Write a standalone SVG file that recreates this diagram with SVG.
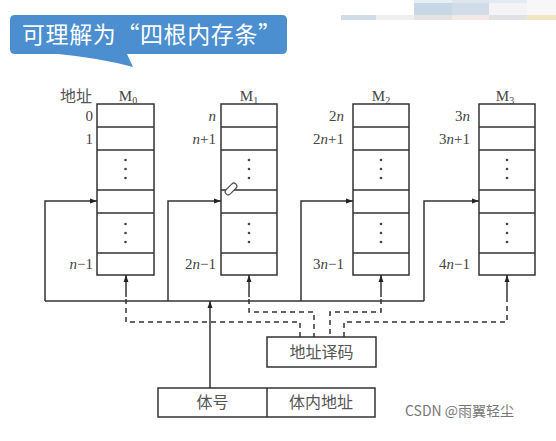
<svg xmlns="http://www.w3.org/2000/svg" width="556" height="441" viewBox="0 0 556 441">
<style>
.bx{fill:#fff;stroke:#333;stroke-width:1.5}
.rw{stroke:#333;stroke-width:1.5}
.ln{fill:none;stroke:#333;stroke-width:1.5}
.ds{fill:none;stroke:#333;stroke-width:1.5;stroke-dasharray:5 4}
.t{font-family:"Liberation Serif",serif;font-size:15px;fill:#444}
.r{text-anchor:end}
.c{text-anchor:middle}
.zh{font-family:"Noto Sans CJK SC",sans-serif;font-size:16px;fill:#555}
.dot{fill:#444}
</style>
<defs>
<marker id="ah" viewBox="0 0 10 10" refX="10" refY="5" markerWidth="7" markerHeight="7" orient="auto" markerUnits="userSpaceOnUse">
<path d="M0,1.5 L10,5 L0,8.5 Z" fill="#222"/>
</marker>
<g id="dots"><circle cx="0" cy="0" r="1.3" class="dot"/><circle cx="0" cy="9" r="1.3" class="dot"/><circle cx="0" cy="18" r="1.3" class="dot"/></g>
</defs>
<rect width="556" height="441" fill="#fff"/>
<g id="mosaic">
<rect x="414" y="0" width="38" height="3" fill="#e8eef5"/>
<rect x="452" y="0" width="37" height="3" fill="#dde6ef"/>
<rect x="489" y="0" width="38" height="3" fill="#e3eaf2"/>
<rect x="414" y="3" width="38" height="12" fill="#c8d7e6"/>
<rect x="452" y="3" width="37" height="12" fill="#d0dde8"/>
<rect x="489" y="3" width="38" height="12" fill="#f4f3f5"/>
<rect x="527" y="0" width="29" height="15" fill="#f7f7f9"/>
<rect x="341" y="15" width="35" height="5" fill="#d0dce8"/>
<rect x="376" y="15" width="38" height="5" fill="#efefef"/>
<rect x="414" y="15" width="38" height="5" fill="#e6e1e2"/>
<rect x="452" y="15" width="37" height="5" fill="#f3e8e5"/>
<rect x="489" y="15" width="38" height="5" fill="#e1e0e3"/>
<rect x="527" y="15" width="29" height="5" fill="#f1e6c0"/>
</g>
<g id="bubble">
<path d="M15,15 H282 Q287,15 287,20 V49 Q287,54 282,54 H127 L133,67 Q100,58 58,54 H15 Q10,54 10,49 V20 Q10,15 15,15 Z" fill="#4b8fd0"/>
<text x="22" y="43" font-family="Noto Sans CJK SC,sans-serif" font-size="23" letter-spacing="0.6" fill="#fff">可理解为“四根内存条”</text>
</g>
<text class="zh" x="60" y="102">地址</text>
<g id="M0">
<rect class="bx" x="97" y="104" width="57" height="171"/>
<path class="rw" d="M97,127H154M97,150H154M97,190H154M97,213H154M97,253H154"/>
<use href="#dots" x="125.5" y="160"/><use href="#dots" x="125.5" y="224"/>
<text class="t c" x="128" y="101">M<tspan font-size="10" dy="3">0</tspan></text>
<text class="t r" x="93" y="121">0</text>
<text class="t r" x="93" y="144">1</text>
<text class="t r" x="93" y="269"><tspan font-style="italic">n</tspan>−1</text>
</g>
<g id="M1">
<rect class="bx" x="221" y="104" width="56" height="171"/>
<path class="rw" d="M221,127H277M221,150H277M221,190H277M221,213H277M221,253H277"/>
<use href="#dots" x="249" y="160"/><use href="#dots" x="249" y="224"/>
<text class="t c" x="249" y="101">M<tspan font-size="10" dy="3">1</tspan></text>
<text class="t r" x="216" y="121" font-style="italic">n</text>
<text class="t r" x="216" y="144"><tspan font-style="italic">n</tspan>+1</text>
<text class="t r" x="216" y="269">2<tspan font-style="italic">n</tspan>−1</text>
</g>
<g id="M2">
<rect class="bx" x="353" y="104" width="56" height="171"/>
<path class="rw" d="M353,127H409M353,150H409M353,190H409M353,213H409M353,253H409"/>
<use href="#dots" x="381" y="160"/><use href="#dots" x="381" y="224"/>
<text class="t c" x="381" y="101">M<tspan font-size="10" dy="3">2</tspan></text>
<text class="t r" x="344" y="121">2<tspan font-style="italic">n</tspan></text>
<text class="t r" x="344" y="144">2<tspan font-style="italic">n</tspan>+1</text>
<text class="t r" x="344" y="269">3<tspan font-style="italic">n</tspan>−1</text>
</g>
<g id="M3">
<rect class="bx" x="479" y="104" width="56" height="171"/>
<path class="rw" d="M479,127H535M479,150H535M479,190H535M479,213H535M479,253H535"/>
<use href="#dots" x="507" y="160"/><use href="#dots" x="507" y="224"/>
<text class="t c" x="505" y="101">M<tspan font-size="10" dy="3">3</tspan></text>
<text class="t r" x="470" y="121">3<tspan font-style="italic">n</tspan></text>
<text class="t r" x="470" y="144">3<tspan font-style="italic">n</tspan>+1</text>
<text class="t r" x="470" y="269">4<tspan font-style="italic">n</tspan>−1</text>
</g>
<g id="decoder">
<rect class="bx" x="267" y="337" width="109" height="30"/>
<text class="zh c" x="321.5" y="358" font-size="17">地址译码</text>
</g>
<g id="addr">
<rect class="bx" x="158" y="388" width="217" height="29"/>
<line class="rw" x1="267" y1="388" x2="267" y2="417"/>
<text class="zh c" x="212.5" y="408">体号</text>
<text class="zh c" x="321" y="408">体内地址</text>
</g>
<g id="connectors">
<path class="ln" d="M45,301H424"/>
<path class="ln" d="M45,301V201H97" marker-end="url(#ah)"/>
<path class="ln" d="M168,301V201H221" marker-end="url(#ah)"/>
<path class="ln" d="M301,301V201H353" marker-end="url(#ah)"/>
<path class="ln" d="M424,301V201H479" marker-end="url(#ah)"/>
<path class="ln" d="M210,388V301" marker-end="url(#ah)"/>
<path class="ln" d="M126,297V275" marker-end="url(#ah)"/>
<path class="ln" d="M249,297V275" marker-end="url(#ah)"/>
<path class="ln" d="M381,297V275" marker-end="url(#ah)"/>
<path class="ln" d="M507,297V275" marker-end="url(#ah)"/>
<path class="ds" d="M126,299V322H300V337"/>
<path class="ds" d="M249,299V312H314V337"/>
<path class="ds" d="M381,299V312H330V337"/>
<path class="ds" d="M507,297V322H344V337"/>
</g>
<g id="pen">
<rect x="224" y="186" width="14" height="6" rx="3" transform="rotate(-45 231 189)" fill="#fff" stroke="#555" stroke-width="1.2"/>
</g>
<text x="405" y="416" font-family="Noto Sans CJK SC,sans-serif" font-size="14" fill="#777">CSDN @雨翼轻尘</text>
</svg>
